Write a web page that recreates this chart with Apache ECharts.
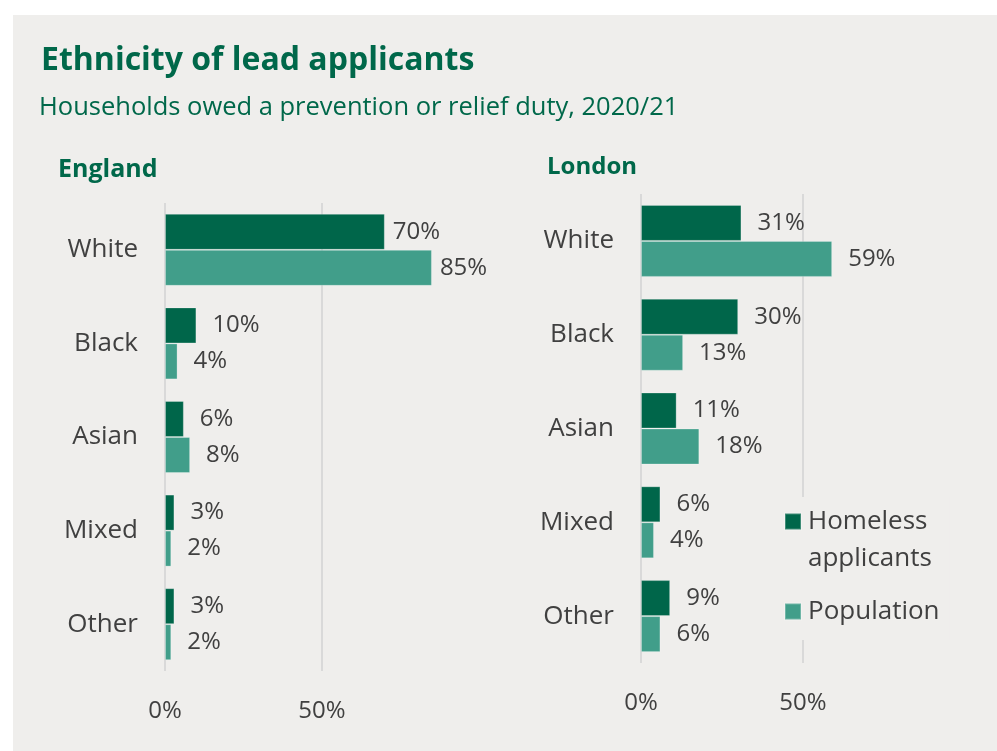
<!DOCTYPE html>
<html>
<head>
<meta charset="utf-8">
<script src="https://cdn.jsdelivr.net/npm/echarts@6/dist/echarts.min.js"></script>
<style>
  html, body { margin: 0; padding: 0; background: #ffffff; }
  #panel { position: absolute; left: 13px; top: 15px; right: 0; bottom: 0; background: #efeeec; }
  #chart { position: absolute; left: 0; top: 0; width: 997px; height: 751px; }
</style>
</head>
<body>
<div id="panel"></div>
<div id="chart"></div>
<script>
  // data
  const categories = ['White', 'Black', 'Asian', 'Mixed', 'Other']
  const englandHomeless = [70, 10, 6, 3, 3]
  const englandPopulation = [85, 4, 8, 2, 2]
  const londonHomeless = [31, 30, 11, 6, 9]
  const londonPopulation = [59, 13, 18, 4, 6]
  const tickLabels = { 0: '0%', 50: '50%' }

  const dark = '#00664a'
  const light = '#419e8a'
  const green = '#00684a'
  const grey = '#404040'
  const font = 'Open Sans'

  const chart = echarts.init(document.getElementById('chart'))

  function xAxis(gridIndex) {
    return {
      type: 'value',
      gridIndex: gridIndex,
      min: 0,
      max: 100,
      interval: 50,
      axisLine: { show: false },
      axisTick: { show: false },
      axisLabel: {
        margin: 28,
        fontFamily: font,
        fontSize: 24,
        color: grey,
        formatter: v => tickLabels[v] || ''
      },
      splitLine: {
        show: true,
        lineStyle: { color: ['#d9d9d9', '#d9d9d9', 'rgba(0,0,0,0)'], width: 2 }
      }
    }
  }

  function yAxis(gridIndex) {
    return {
      type: 'category',
      gridIndex: gridIndex,
      inverse: true,
      data: categories,
      axisLine: { show: false },
      axisTick: { show: false },
      axisLabel: { margin: 27, fontFamily: font, fontSize: 26, color: grey }
    }
  }

  function barSeries(name, data, idx, color, nearDist) {
    return {
      name: name,
      type: 'bar',
      xAxisIndex: idx,
      yAxisIndex: idx,
      barWidth: 36,
      barGap: '0%',
      itemStyle: { color: color, borderColor: 'rgba(255,255,255,0.25)', borderWidth: 1 },
      label: {
        show: true,
        position: 'right',
        distance: 16,
        fontFamily: font,
        fontSize: 24,
        color: grey,
        formatter: '{c}%'
      },
      // England's White labels sit closer to the bar end
      data: data.map((v, i) => (nearDist && i === 0) ? { value: v, label: { distance: 8 } } : v)
    }
  }

  chart.setOption({
    animation: false,
    title: [
      {
        text: 'Ethnicity of lead applicants',
        left: 36, top: 40,
        textStyle: { fontFamily: font, fontSize: 32, fontWeight: 'bold', color: green }
      },
      {
        text: 'Households owed a prevention or relief duty, 2020/21',
        left: 34, top: 90,
        textStyle: { fontFamily: font, fontSize: 25.5, fontWeight: 'normal', color: green }
      },
      {
        text: 'England',
        left: 53, top: 152,
        textStyle: { fontFamily: font, fontSize: 25, fontWeight: 'bold', color: green }
      },
      {
        text: 'London',
        left: 542, top: 150,
        textStyle: { fontFamily: font, fontSize: 24, fontWeight: 'bold', color: green }
      }
    ],
    legend: {
      data: ['Homeless applicants', 'Population'],
      orient: 'vertical',
      left: 779,
      top: 497,
      padding: [-31, 10, 10, 5],
      backgroundColor: '#efeeec',
      itemWidth: 16,
      itemHeight: 16,
      itemGap: 16,
      icon: 'rect',
      selectedMode: false,
      formatter: name => name === 'Homeless applicants' ? '\nHomeless\napplicants' : name,
      textStyle: { fontFamily: font, fontSize: 26, lineHeight: 37, color: grey, padding: [0, 0, 0, 2] }
    },
    grid: [
      { left: 165, top: 203, width: 314, height: 468 },
      { left: 641, top: 194, width: 324, height: 469 }
    ],
    xAxis: [xAxis(0), xAxis(1)],
    yAxis: [yAxis(0), yAxis(1)],
    series: [
      barSeries('Homeless applicants', englandHomeless, 0, dark, true),
      barSeries('Population', englandPopulation, 0, light, true),
      barSeries('Homeless applicants', londonHomeless, 1, dark, false),
      barSeries('Population', londonPopulation, 1, light, false)
    ]
  })
</script>
</body>
</html>
